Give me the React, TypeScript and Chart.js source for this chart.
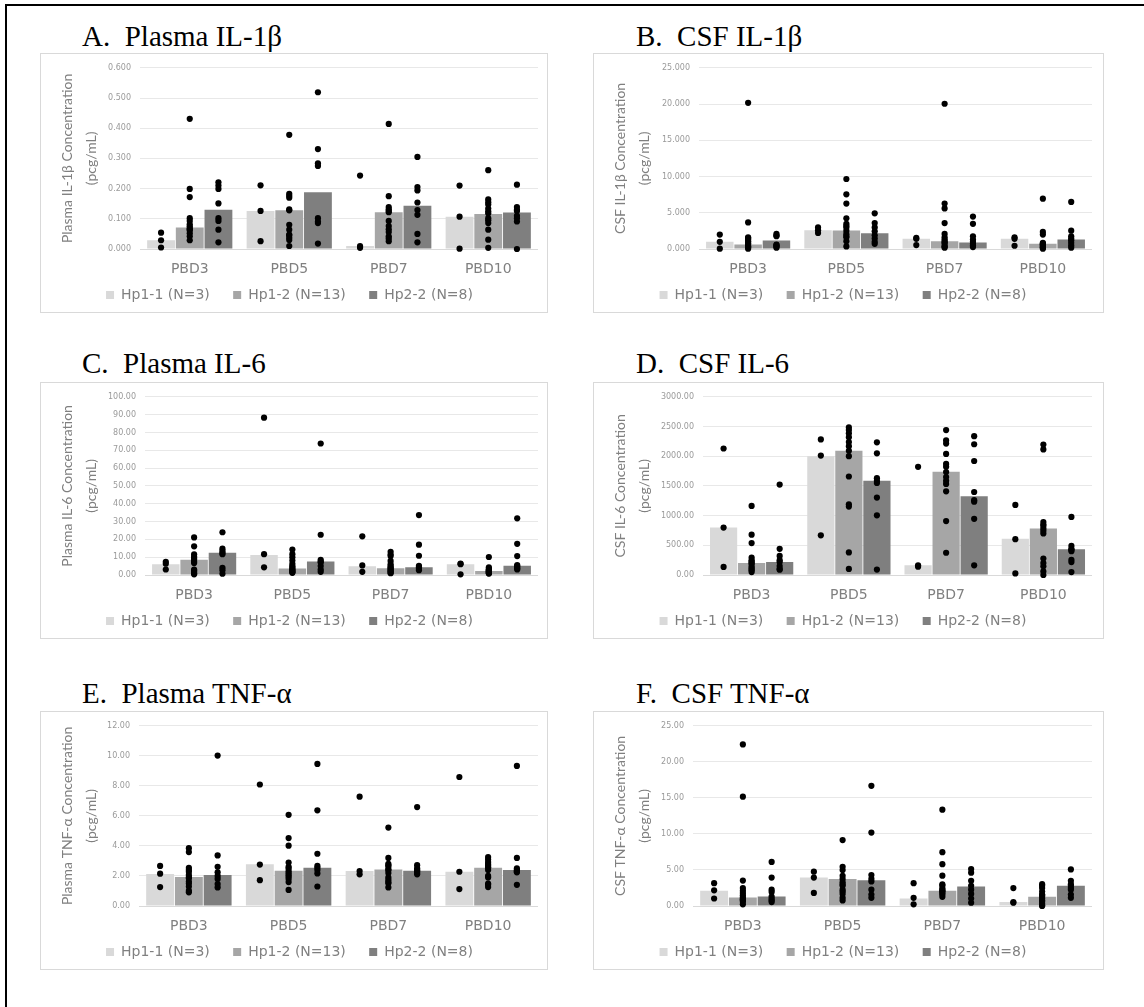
import React, { useEffect, useRef } from 'react';
import { Chart, registerables } from 'chart.js';

Chart.register(...registerables);

// ---------------- shared categories / series ----------------
const categories = ['PBD3', 'PBD5', 'PBD7', 'PBD10'];
const seriesLabels = ['Hp1-1 (N=3)', 'Hp1-2 (N=13)', 'Hp2-2 (N=8)'];
const seriesColors = ['#d9d9d9', '#a6a6a6', '#7f7f7f'];

// ---------------- A. Plasma IL-1β ----------------
const plasmaIL1bBarsHp11 = [0.029, 0.126, 0.010, 0.107];
const plasmaIL1bBarsHp12 = [0.071, 0.128, 0.122, 0.116];
const plasmaIL1bBarsHp22 = [0.130, 0.188, 0.143, 0.121];
const plasmaIL1bDotsHp11 = [[0.054, 0.029, 0.005], [0.211, 0.126, 0.026], [0.243, 0.010, 0.004], [0.210, 0.107, 0.001]];
const plasmaIL1bDotsHp12 = [
  [0.431, 0.199, 0.172, 0.102, 0.093, 0.082, 0.075, 0.069, 0.065, 0.061, 0.052, 0.042, 0.029],
  [0.378, 0.183, 0.176, 0.170, 0.131, 0.128, 0.080, 0.064, 0.048, 0.045, 0.037, 0.030, 0.010],
  [0.414, 0.175, 0.139, 0.132, 0.126, 0.122, 0.093, 0.076, 0.065, 0.056, 0.042, 0.035, 0.026],
  [0.261, 0.164, 0.155, 0.147, 0.134, 0.125, 0.118, 0.102, 0.095, 0.086, 0.064, 0.031, 0.004],
];
const plasmaIL1bDotsHp22 = [
  [0.221, 0.210, 0.199, 0.151, 0.102, 0.093, 0.064, 0.022],
  [0.519, 0.331, 0.284, 0.275, 0.102, 0.091, 0.086, 0.018],
  [0.305, 0.205, 0.194, 0.154, 0.129, 0.113, 0.050, 0.022],
  [0.213, 0.139, 0.130, 0.126, 0.110, 0.102, 0.091, 0.000],
];

// ---------------- B. CSF IL-1β ----------------
const csfIL1bBarsHp11 = [0.99, 2.57, 1.40, 1.40];
const csfIL1bBarsHp12 = [0.63, 2.55, 1.08, 0.72];
const csfIL1bBarsHp22 = [1.17, 2.17, 0.90, 1.31];
const csfIL1bDotsHp11 = [[1.99, 0.99, 0.05], [2.98, 2.57, 2.21], [1.53, 1.40, 0.54], [1.62, 1.40, 0.45]];
const csfIL1bDotsHp12 = [
  [20.17, 3.66, 1.62, 1.50, 1.31, 1.10, 0.99, 0.80, 0.63, 0.40, 0.32, 0.20, 0.05],
  [9.66, 7.54, 6.27, 4.24, 3.48, 3.20, 2.98, 2.53, 2.08, 1.80, 1.62, 1.08, 0.36],
  [20.04, 6.27, 5.60, 3.57, 2.08, 1.62, 1.30, 1.08, 0.90, 0.72, 0.41, 0.30, 0.18],
  [6.95, 2.35, 1.99, 0.86, 0.72, 0.70, 0.60, 0.54, 0.40, 0.30, 0.20, 0.18, 0.05],
];
const csfIL1bDotsHp22 = [
  [2.08, 1.90, 1.76, 0.60, 0.54, 0.40, 0.30, 0.18],
  [4.92, 3.57, 2.98, 2.44, 1.90, 1.44, 0.99, 0.72],
  [4.47, 3.48, 1.76, 1.31, 1.00, 0.72, 0.50, 0.27],
  [6.50, 2.53, 1.76, 1.44, 1.20, 0.86, 0.50, 0.18],
];

// ---------------- C. Plasma IL-6 ----------------
const plasmaIL6BarsHp11 = [6.1, 11.2, 4.9, 6.1];
const plasmaIL6BarsHp12 = [8.5, 3.6, 3.8, 2.3];
const plasmaIL6BarsHp22 = [12.5, 7.6, 4.3, 5.2];
const plasmaIL6DotsHp11 = [[7.4, 6.3, 3.1], [88.3, 11.7, 4.3], [21.7, 5.4, 1.8], [6.4, 6.1, 0.4]];
const plasmaIL6DotsHp12 = [
  [21.1, 16.1, 11.6, 10.3, 9.5, 8.5, 7.5, 6.7, 3.1, 2.5, 1.8, 1.0, 0.4],
  [14.3, 11.7, 9.9, 8.1, 6.3, 5.0, 4.5, 3.6, 3.1, 2.5, 2.0, 1.6, 1.2],
  [13.0, 11.5, 10.6, 7.9, 6.1, 5.0, 4.3, 3.8, 3.1, 2.5, 2.0, 1.3, 1.0],
  [10.1, 4.3, 3.5, 3.1, 2.8, 2.5, 2.3, 2.0, 1.8, 1.6, 1.2, 1.0, 0.8],
];
const plasmaIL6DotsHp22 = [
  [24.0, 14.8, 13.5, 12.5, 11.7, 4.0, 2.7, 0.7],
  [73.8, 22.6, 8.5, 7.6, 7.0, 5.0, 3.1, 1.8],
  [33.6, 17.0, 10.8, 5.2, 4.5, 4.2, 3.5, 2.7],
  [31.8, 17.5, 10.6, 5.6, 5.0, 4.5, 3.8, 3.1],
];

// ---------------- D. CSF IL-6 ----------------
const csfIL6BarsHp11 = [799, 2000, 163, 609];
const csfIL6BarsHp12 = [201, 2092, 1739, 783];
const csfIL6BarsHp22 = [217, 1587, 1326, 435];
const csfIL6DotsHp11 = [[2130, 799, 136], [2283, 2011, 668], [1821, 163, 140], [1179, 603, 27]];
const csfIL6DotsHp12 = [
  [1163, 679, 538, 293, 250, 228, 201, 190, 150, 120, 100, 80, 49],
  [2484, 2440, 2386, 2321, 2239, 2169, 2092, 2000, 1658, 1190, 1152, 380, 103],
  [2440, 2266, 2212, 2038, 1870, 1821, 1734, 1650, 1587, 1533, 1408, 908, 375],
  [2196, 2114, 891, 850, 826, 783, 745, 700, 277, 200, 147, 60, 0],
];
const csfIL6DotsHp22 = [
  [1522, 440, 321, 250, 217, 150, 103, 90],
  [2234, 2049, 1630, 1587, 1550, 1304, 1005, 92],
  [2337, 2201, 1919, 1397, 1260, 1234, 946, 163],
  [978, 489, 435, 429, 400, 255, 217, 49],
];

// ---------------- E. Plasma TNF-α ----------------
const plasmaTNFBarsHp11 = [2.13, 2.78, 2.33, 2.28];
const plasmaTNFBarsHp12 = [1.93, 2.35, 2.43, 2.54];
const plasmaTNFBarsHp22 = [2.07, 2.54, 2.35, 2.39];
const plasmaTNFDotsHp11 = [[2.67, 2.15, 1.26], [8.09, 2.76, 1.72], [7.28, 2.33, 2.11], [8.59, 2.28, 1.13]];
const plasmaTNFDotsHp12 = [
  [3.85, 3.59, 2.54, 2.40, 2.28, 2.07, 1.93, 1.85, 1.63, 1.50, 1.30, 1.02, 0.91],
  [6.07, 4.52, 4.02, 2.89, 2.61, 2.50, 2.33, 2.20, 2.07, 1.95, 1.80, 1.59, 1.07],
  [5.22, 3.20, 2.80, 2.72, 2.60, 2.43, 2.39, 2.20, 1.90, 1.74, 1.60, 1.52, 1.24],
  [3.26, 3.10, 2.93, 2.80, 2.70, 2.60, 2.54, 2.40, 2.00, 1.89, 1.50, 1.41, 1.26],
];
const plasmaTNFDotsHp22 = [
  [10.02, 3.37, 2.61, 2.24, 2.00, 1.80, 1.46, 1.24],
  [9.46, 6.37, 3.48, 2.67, 2.54, 2.39, 2.17, 1.30],
  [6.59, 2.72, 2.50, 2.40, 2.35, 2.28, 2.20, 2.11],
  [9.33, 3.20, 2.50, 2.39, 2.35, 2.30, 2.24, 1.41],
];

// ---------------- F. CSF TNF-α ----------------
const csfTNFBarsHp11 = [2.13, 3.94, 1.04, 0.54];
const csfTNFBarsHp12 = [1.18, 3.76, 2.13, 1.27];
const csfTNFBarsHp22 = [1.31, 3.58, 2.72, 2.81];
const csfTNFDotsHp11 = [[3.17, 2.17, 1.04], [4.76, 3.94, 1.81], [3.17, 1.13, 0.23], [2.49, 0.54, 0.45]];
const csfTNFDotsHp12 = [
  [22.42, 15.17, 3.53, 2.49, 2.13, 1.80, 1.50, 1.22, 1.00, 0.91, 0.80, 0.59, 0.23],
  [9.15, 5.43, 4.98, 4.20, 3.76, 3.31, 3.00, 2.81, 2.26, 2.00, 1.68, 1.13, 0.77],
  [13.36, 7.47, 5.80, 4.21, 3.00, 2.85, 2.50, 2.26, 2.13, 2.00, 1.81, 1.60, 1.27],
  [3.03, 2.80, 2.49, 2.00, 1.59, 1.50, 1.27, 1.04, 0.80, 0.59, 0.30, 0.10, 0.00],
];
const csfTNFDotsHp22 = [
  [6.11, 3.94, 2.26, 1.95, 1.31, 1.00, 0.77, 0.54],
  [16.67, 10.19, 4.30, 3.76, 3.40, 2.26, 1.59, 1.13],
  [5.12, 4.62, 3.49, 2.80, 2.26, 1.68, 1.04, 0.45],
  [5.07, 3.49, 3.03, 2.81, 2.50, 2.26, 1.59, 1.13],
];

// ---------------- panel descriptions ----------------
const panels = [
  {
    title: 'A.  Plasma IL-1β', yTitle: ['Plasma IL-1β Concentration', '(pcg/mL)'],
    bars: [plasmaIL1bBarsHp11, plasmaIL1bBarsHp12, plasmaIL1bBarsHp22],
    dots: [plasmaIL1bDotsHp11, plasmaIL1bDotsHp12, plasmaIL1bDotsHp22],
    max: 0.6, step: 0.1, decimals: 3,
    box: { left: 40, top: 53, width: 508, height: 260 }, yAxisWidth: 99, padRight: 9, titleX: 82, titleBaseline: 46,
  },
  {
    title: 'B.  CSF IL-1β', yTitle: ['CSF IL-1β Concentration', '(pcg/mL)'],
    bars: [csfIL1bBarsHp11, csfIL1bBarsHp12, csfIL1bBarsHp22],
    dots: [csfIL1bDotsHp11, csfIL1bDotsHp12, csfIL1bDotsHp22],
    max: 25, step: 5, decimals: 3,
    box: { left: 593, top: 53, width: 511, height: 260 }, yAxisWidth: 105, padRight: 11, titleX: 636, titleBaseline: 46,
  },
  {
    title: 'C.  Plasma IL-6', yTitle: ['Plasma IL-6 Concentration', '(pcg/mL)'],
    bars: [plasmaIL6BarsHp11, plasmaIL6BarsHp12, plasmaIL6BarsHp22],
    dots: [plasmaIL6DotsHp11, plasmaIL6DotsHp12, plasmaIL6DotsHp22],
    max: 100, step: 10, decimals: 2,
    box: { left: 40, top: 382, width: 508, height: 257 }, yAxisWidth: 104, padRight: 9, titleX: 82, titleBaseline: 373,
  },
  {
    title: 'D.  CSF IL-6', yTitle: ['CSF IL-6 Concentration', '(pcg/mL)'],
    bars: [csfIL6BarsHp11, csfIL6BarsHp12, csfIL6BarsHp22],
    dots: [csfIL6DotsHp11, csfIL6DotsHp12, csfIL6DotsHp22],
    max: 3000, step: 500, decimals: 2,
    box: { left: 593, top: 382, width: 511, height: 257 }, yAxisWidth: 109, padRight: 11, titleX: 636, titleBaseline: 373,
  },
  {
    title: 'E.  Plasma TNF-α', yTitle: ['Plasma TNF-α Concentration', '(pcg/mL)'],
    bars: [plasmaTNFBarsHp11, plasmaTNFBarsHp12, plasmaTNFBarsHp22],
    dots: [plasmaTNFDotsHp11, plasmaTNFDotsHp12, plasmaTNFDotsHp22],
    max: 12, step: 2, decimals: 2,
    box: { left: 40, top: 711, width: 508, height: 259 }, yAxisWidth: 98, padRight: 9, titleX: 82, titleBaseline: 703,
  },
  {
    title: 'F.  CSF TNF-α', yTitle: ['CSF TNF-α Concentration', '(pcg/mL)'],
    bars: [csfTNFBarsHp11, csfTNFBarsHp12, csfTNFBarsHp22],
    dots: [csfTNFDotsHp11, csfTNFDotsHp12, csfTNFDotsHp22],
    max: 25, step: 5, decimals: 2,
    box: { left: 593, top: 711, width: 511, height: 259 }, yAxisWidth: 99, padRight: 11, titleX: 636, titleBaseline: 703,
  },
];

const GROUP_FRACTION = 0.865; // share of a category occupied by the 3 bars
const BAR_PCT = 0.97;
const TITLE_SIZE = 29;

// position of series s inside category c, in category units
const slot = (c: number, s: number) => c + ((s - 1) * GROUP_FRACTION) / 3;

function ChartPanel({ p }: { p: any }) {
  const ref = useRef<HTMLCanvasElement>(null);
  const cw = p.box.width - 2;
  const ch = p.box.height - 2;

  useEffect(() => {
    if (!ref.current) return;
    const datasets: any[] = [];
    p.bars.forEach((vals: number[], s: number) => {
      datasets.push({
        type: 'bar', label: seriesLabels[s],
        data: vals.map((v, c) => ({ x: slot(c, s), y: v })),
        backgroundColor: seriesColors[s], borderWidth: 0,
        grouped: false, categoryPercentage: 1, barPercentage: BAR_PCT,
        order: 2,
      });
    });
    p.dots.forEach((perCat: number[][], s: number) => {
      const pts: { x: number; y: number }[] = [];
      perCat.forEach((vals, c) => {
        vals.forEach((v) => pts.push({ x: slot(c, s), y: v }));
      });
      datasets.push({
        type: 'scatter', label: 'dots-' + s, data: pts,
        backgroundColor: '#000', borderColor: '#000', pointRadius: 3.1, pointBorderWidth: 0,
        order: 1, clip: false,
      });
    });

    const chart = new Chart(ref.current, {
      type: 'bar',
      data: { datasets },
      options: {
        animation: false,
        responsive: false,
        devicePixelRatio: 1,
        layout: { padding: { top: 9, right: p.padRight, bottom: 0, left: 0 } },
        plugins: {
          tooltip: { enabled: false },
          legend: {
            position: 'bottom',
            labels: {
              boxWidth: 8, boxHeight: 8, padding: 10, color: '#808080',
              font: { family: 'DejaVu Sans', size: 14 },
              generateLabels: (c: any) => {
                const items = (Chart as any).defaults.plugins.legend.labels
                  .generateLabels(c)
                  .filter((it: any) => c.data.datasets[it.datasetIndex].type === 'bar');
                items.forEach((it: any, i: number) => {
                  if (i < items.length - 1) it.text = it.text + '   ';
                });
                return items;
              },
            },
          },
        },
        scales: {
          x: {
            type: 'linear', min: -0.5, max: 3.5, offset: false,
            grid: { display: false, drawTicks: false }, border: { display: false },
            afterBuildTicks: (s: any) => { s.ticks = categories.map((_, i) => ({ value: i })); },
            ticks: {
              color: '#808080', font: { family: 'DejaVu Sans', size: 14 }, padding: 12,
              autoSkip: false, maxRotation: 0,
              callback: (v: any) => categories[Math.round(Number(v))] ?? '',
            },
            afterFit: (s: any) => { s.height = 29; },
          },
          y: {
            type: 'linear', min: 0, max: p.max,
            ticks: {
              stepSize: p.step, color: '#9a9a9a', padding: 9,
              font: { family: 'DejaVu Sans', size: 8 },
              callback: (v: any) => Number(v).toFixed(p.decimals),
            },
            grid: {
              drawTicks: false,
              color: (ctx: any) => (ctx.tick && ctx.tick.value === 0 ? '#d9d9d9' : '#e8e8e8'),
            },
            border: { display: false },
            title: {
              display: true, text: p.yTitle, color: '#7f7f7f',
              font: { family: 'Lato', size: 14, lineHeight: 1.7 },
              padding: { top: 15, bottom: 0 },
            },
            afterFit: (s: any) => { s.width = p.yAxisWidth; },
          },
        },
      } as any,
    });
    return () => chart.destroy();
  }, []);

  return (
    <>
      <div
        style={{
          position: 'absolute', left: p.titleX,
          top: p.titleBaseline - 24.3, fontFamily: '"Liberation Serif", "Times New Roman", serif',
          fontSize: TITLE_SIZE, lineHeight: TITLE_SIZE + 'px', color: '#000', whiteSpace: 'pre',
        }}
      >
        {p.title}
      </div>
      <div
        style={{
          position: 'absolute', left: p.box.left, top: p.box.top,
          width: p.box.width - 2, height: p.box.height - 2, border: '1px solid #d9d9d9',
          background: '#fff',
        }}
      >
        <canvas ref={ref} width={cw} height={ch} style={{ display: 'block', width: cw, height: ch }} />
      </div>
    </>
  );
}

export default function App() {
  return (
    <div style={{ position: 'absolute', left: 0, top: 0, width: 1144, height: 1007, background: '#fff', overflow: 'hidden' }}>
      <div style={{ position: 'absolute', left: 5, top: 4, width: 2, height: 1003, background: '#000' }} />
      <div style={{ position: 'absolute', left: 5, top: 4, width: 1139, height: 2, background: '#000' }} />
      {panels.map((p, i) => (
        <ChartPanel key={i} p={p} />
      ))}
    </div>
  );
}
